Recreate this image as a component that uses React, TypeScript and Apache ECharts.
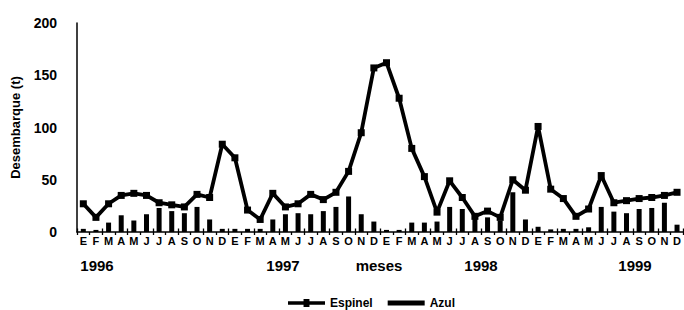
import React, { useEffect, useRef } from "react";
import * as echarts from "echarts";

const monthLetters = ["E", "F", "M", "A", "M", "J", "J", "A", "S", "O", "N", "D"];
const years = ["1996", "1997", "1998", "1999"];
const categories: string[] = years.flatMap((y) => monthLetters.map((m) => m));

const espinel = [
  27, 14, 27, 35, 37, 35, 28, 26, 24, 36, 33, 84,
  71, 21, 12, 37, 24, 27, 36, 31, 38, 58, 95, 157,
  162, 128, 80, 53, 19, 49, 33, 15, 20, 14, 50, 40,
  101, 41, 32, 15, 22, 54, 28, 30, 32, 33, 35, 38,
];

const azul = [
  3, 2, 9, 16, 11, 17, 23, 20, 18, 24, 12, 3,
  3, 3, 3, 12, 17, 18, 17, 20, 24, 34, 17, 10,
  2, 2, 9, 9, 10, 24, 22, 13, 14, 11, 38, 12,
  5, 2.5, 3, 3, 4.5, 24, 19.5, 18, 22, 23, 28, 7,
];

const yTicks = [0, 50, 100, 150, 200];
const xName = "meses";
const yName = "Desembarque (t)";

const FONT = "'Liberation Sans', Arial, Helvetica, sans-serif";

export default function App() {
  const ref = useRef<HTMLDivElement>(null);

  useEffect(() => {
    document.body.style.margin = "0";
    if (!ref.current) return;
    const chart = echarts.init(ref.current, undefined, { renderer: "svg" });

    const yearPos = [97, 283, 481, 635];

    chart.setOption({
      animation: false,
      backgroundColor: "#ffffff",
      grid: { left: 77, width: 607, top: 23, height: 209 },
      legend: {
        left: 283,
        top: 292,
        itemWidth: 37,
        itemHeight: 8,
        itemGap: 15,
        textStyle: { fontFamily: FONT, fontWeight: "bold", fontSize: 12, color: "#000" },
        data: [
          { name: "Espinel", icon: "path://M0,6 L100,6 L100,15.6 L0,15.6 Z M42,0 L58,0 L58,21.6 L42,21.6 Z" },
          { name: "Azul", icon: "path://M0,0 L100,0 L100,13.5 L0,13.5 Z" },
        ],
      },
      xAxis: [
        {
          type: "category",
          data: categories,
          boundaryGap: true,
          axisLine: { lineStyle: { color: "#000", width: 1.5 } },
          axisTick: { show: true, inside: false, length: 3, lineStyle: { color: "#000", width: 1.3 } },
          axisLabel: {
            interval: 0,
            margin: 3,
            fontFamily: FONT,
            fontWeight: "bold",
            fontSize: 11,
            color: "#000",
          },
          splitLine: { show: false },
        },
        {
          type: "category",
          data: categories,
          boundaryGap: true,
          position: "bottom",
          axisLine: { show: false },
          axisTick: { show: true, inside: true, length: 3.5, lineStyle: { color: "#000", width: 1.3 } },
          axisLabel: { show: false },
          splitLine: { show: false },
        },
      ],
      yAxis: {
        type: "value",
        min: 0,
        max: 200,
        interval: 50,
        name: yName,
        nameLocation: "middle",
        nameGap: 55,
        nameTextStyle: { fontFamily: FONT, fontWeight: "bold", fontSize: 13, color: "#000" },
        axisLine: { show: true, lineStyle: { color: "#000", width: 1.5 } },
        axisTick: { show: false },
        splitLine: { show: false },
        axisLabel: {
          margin: 20,
          fontFamily: FONT,
          fontWeight: "bold",
          fontSize: 14,
          color: "#000",
          formatter: (v: number) => (yTicks.includes(v) ? String(v) : ""),
        },
      },
      series: [
        {
          name: "Azul",
          type: "bar",
          data: azul,
          barWidth: 5,
          itemStyle: { color: "#000" },
          z: 2,
        },
        {
          name: "Espinel",
          type: "line",
          data: espinel,
          symbol: "rect",
          symbolSize: 7,
          lineStyle: { color: "#000", width: 3.8 },
          itemStyle: { color: "#000" },
          z: 3,
        },
      ],
      graphic: [
        ...years.map((y, i) => ({
          type: "text",
          x: yearPos[i],
          y: 265,
          style: {
            text: y,
            fontFamily: FONT,
            fontWeight: "bold",
            fontSize: 15,
            fill: "#000",
            align: "center",
            verticalAlign: "middle",
          },
        })),
        {
          type: "text",
          x: 379,
          y: 265,
          style: {
            text: xName,
            fontFamily: FONT,
            fontWeight: "bold",
            fontSize: 15,
            fill: "#000",
            align: "center",
            verticalAlign: "middle",
          },
        },
      ],
    });

    return () => chart.dispose();
  }, []);

  return <div ref={ref} style={{ width: 684, height: 310 }} />;
}
